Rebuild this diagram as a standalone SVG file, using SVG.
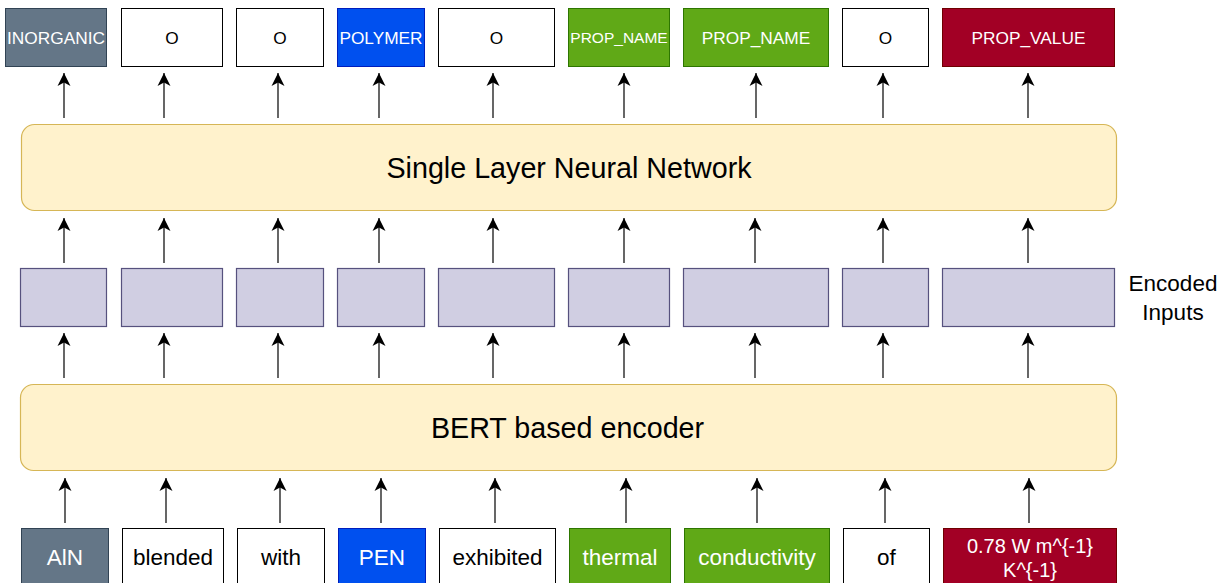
<svg xmlns="http://www.w3.org/2000/svg" width="1220" height="583" viewBox="0 0 1220 583">
<style>
text{font-family:"Liberation Sans",Arial,sans-serif;text-anchor:middle;dominant-baseline:central}
.w{fill:#ffffff;stroke:#000000;stroke-width:1}
.inorg{fill:#647687;stroke:#314354}
.poly{fill:#0050ef;stroke:#001dbc}
.pn{fill:#60a917;stroke:#2d7600}
.pv{fill:#a20025;stroke:#6f0000}
.enc{fill:#d0cee2;stroke:#56517e;stroke-width:1.2}
.big{fill:#fff2cc;stroke:#d6b656;stroke-width:1.2}
.lt{fill:#ffffff}
.dk{fill:#000000}
.t17{font-size:17.3px}
.t22{font-size:22.5px}
.conn line{stroke:#000000;stroke-width:1.2;marker-end:url(#ah)}
</style>
<defs>
<marker id="ah" markerUnits="userSpaceOnUse" markerWidth="16" markerHeight="16" viewBox="-14 -8 16 16" refX="0" refY="0" orient="auto">
<path d="M0,0 L-13,-6.5 L-9.5,0 L-13,6.5 Z" fill="#000000"/>
</marker>
</defs>
<rect width="1220" height="583" fill="#ffffff"/>

<g id="out-inorganic"><rect class="inorg" x="5.5" y="8.5" width="101" height="58"/><text class="lt t17" x="56" y="37.5">INORGANIC</text></g>
<g id="out-o1"><rect class="w" x="121.5" y="8.5" width="101" height="58"/><text class="dk t17" x="172" y="37.5">O</text></g>
<g id="out-o2"><rect class="w" x="236.5" y="8.5" width="87" height="58"/><text class="dk t17" x="280" y="37.5">O</text></g>
<g id="out-polymer"><rect class="poly" x="337.5" y="8.5" width="87" height="58"/><text class="lt t17" x="381" y="37.5">POLYMER</text></g>
<g id="out-o3"><rect class="w" x="438.5" y="8.5" width="116" height="58"/><text class="dk t17" x="496.5" y="37.5">O</text></g>
<g id="out-propname1"><rect class="pn" x="568.5" y="8.5" width="101" height="58"/><text class="lt" style="font-size:15.5px" x="619" y="37.5">PROP_NAME</text></g>
<g id="out-propname2"><rect class="pn" x="683.5" y="8.5" width="145" height="58"/><text class="lt t17" x="756" y="37.5">PROP_NAME</text></g>
<g id="out-o4"><rect class="w" x="842.5" y="8.5" width="86" height="58"/><text class="dk t17" x="885.5" y="37.5">O</text></g>
<g id="out-propvalue"><rect class="pv" x="942.5" y="8.5" width="172" height="58"/><text class="lt t17" x="1028.5" y="37.5">PROP_VALUE</text></g>

<g id="slnn"><rect class="big" x="21.5" y="124.5" width="1095" height="86" rx="13" ry="13"/><text class="dk" style="font-size:28.7px" x="569" y="168">Single Layer Neural Network</text></g>

<g id="enc1"><rect class="enc" x="20.5" y="268.5" width="86" height="58"/></g>
<g id="enc2"><rect class="enc" x="121.5" y="268.5" width="101" height="58"/></g>
<g id="enc3"><rect class="enc" x="236.5" y="268.5" width="87" height="58"/></g>
<g id="enc4"><rect class="enc" x="337.5" y="268.5" width="87" height="58"/></g>
<g id="enc5"><rect class="enc" x="438.5" y="268.5" width="116" height="58"/></g>
<g id="enc6"><rect class="enc" x="568.5" y="268.5" width="101" height="58"/></g>
<g id="enc7"><rect class="enc" x="683.5" y="268.5" width="145" height="58"/></g>
<g id="enc8"><rect class="enc" x="842.5" y="268.5" width="86" height="58"/></g>
<g id="enc9"><rect class="enc" x="942.5" y="268.5" width="172" height="58"/></g>
<g id="enc-label"><text class="dk t22" x="1173" y="283">Encoded</text><text class="dk t22" x="1173" y="312">Inputs</text></g>

<g id="bert"><rect class="big" x="20.5" y="384.5" width="1096" height="86" rx="13" ry="13"/><text class="dk" style="font-size:28.7px" x="567.5" y="428">BERT based encoder</text></g>

<g id="in-aln"><rect class="inorg" x="21.5" y="528.5" width="87" height="58"/><text class="lt t22" x="65" y="557">AlN</text></g>
<g id="in-blended"><rect class="w" x="122.5" y="528.5" width="101" height="58"/><text class="dk t22" x="173" y="557">blended</text></g>
<g id="in-with"><rect class="w" x="237.5" y="528.5" width="87" height="58"/><text class="dk t22" x="281" y="557">with</text></g>
<g id="in-pen"><rect class="poly" x="338.5" y="528.5" width="87" height="58"/><text class="lt t22" x="382" y="557">PEN</text></g>
<g id="in-exhibited"><rect class="w" x="439.5" y="528.5" width="116" height="58"/><text class="dk t22" x="497.5" y="557">exhibited</text></g>
<g id="in-thermal"><rect class="pn" x="569.5" y="528.5" width="101" height="58"/><text class="lt t22" x="620" y="557">thermal</text></g>
<g id="in-conductivity"><rect class="pn" x="684.5" y="528.5" width="145" height="58"/><text class="lt t22" x="757" y="557">conductivity</text></g>
<g id="in-of"><rect class="w" x="843.5" y="528.5" width="86" height="58"/><text class="dk t22" x="886.5" y="557">of</text></g>
<g id="in-value"><rect class="pv" x="943.5" y="528.5" width="173" height="58"/><text class="lt" style="font-size:20px" x="1030" y="546">0.78 W m^{-1}</text><text class="lt" style="font-size:20px" x="1030" y="570">K^{-1}</text></g>

<g id="connectors" class="conn">
<line x1="64" y1="118" x2="64" y2="73"/>
<line x1="164" y1="118" x2="164" y2="73"/>
<line x1="278" y1="118" x2="278" y2="73"/>
<line x1="379" y1="118" x2="379" y2="73"/>
<line x1="493" y1="118" x2="493" y2="73"/>
<line x1="624" y1="118" x2="624" y2="73"/>
<line x1="756" y1="118" x2="756" y2="73"/>
<line x1="883" y1="118" x2="883" y2="73"/>
<line x1="1028" y1="118" x2="1028" y2="73"/>

<line x1="64" y1="263" x2="64" y2="218"/>
<line x1="164" y1="263" x2="164" y2="218"/>
<line x1="278" y1="263" x2="278" y2="218"/>
<line x1="379" y1="263" x2="379" y2="218"/>
<line x1="493" y1="263" x2="493" y2="218"/>
<line x1="624" y1="263" x2="624" y2="218"/>
<line x1="755" y1="263" x2="755" y2="218"/>
<line x1="883" y1="263" x2="883" y2="218"/>
<line x1="1028" y1="263" x2="1028" y2="218"/>

<line x1="64" y1="378" x2="64" y2="333"/>
<line x1="164" y1="378" x2="164" y2="333"/>
<line x1="278" y1="378" x2="278" y2="333"/>
<line x1="379" y1="378" x2="379" y2="333"/>
<line x1="493" y1="378" x2="493" y2="333"/>
<line x1="624" y1="378" x2="624" y2="333"/>
<line x1="755" y1="378" x2="755" y2="333"/>
<line x1="883" y1="378" x2="883" y2="333"/>
<line x1="1028" y1="378" x2="1028" y2="333"/>

<line x1="65" y1="523" x2="65" y2="478"/>
<line x1="166" y1="523" x2="166" y2="478"/>
<line x1="280" y1="523" x2="280" y2="478"/>
<line x1="381" y1="523" x2="381" y2="478"/>
<line x1="495" y1="523" x2="495" y2="478"/>
<line x1="626" y1="523" x2="626" y2="478"/>
<line x1="757" y1="523" x2="757" y2="478"/>
<line x1="885" y1="523" x2="885" y2="478"/>
<line x1="1029" y1="523" x2="1029" y2="478"/>
</g>
</svg>
